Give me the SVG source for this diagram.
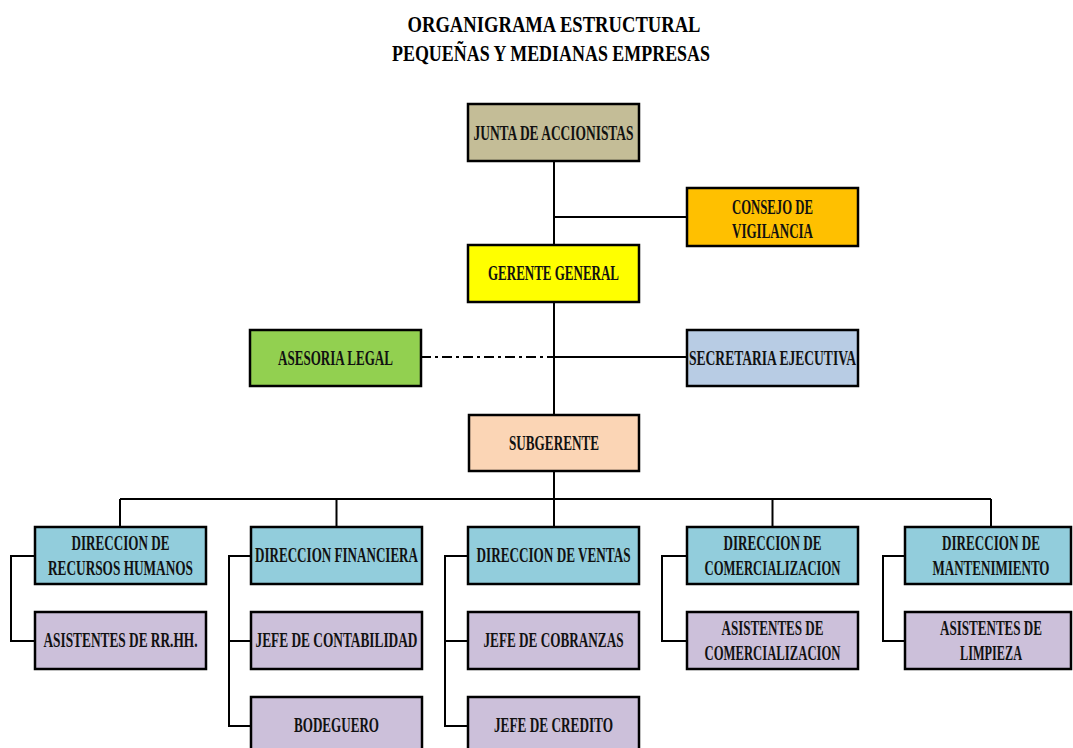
<svg xmlns="http://www.w3.org/2000/svg" width="1073" height="748" viewBox="0 0 1073 748">
<style>
.box{stroke:#000;stroke-width:2.5}
.t{font-family:"Liberation Serif","Times New Roman",serif;font-weight:bold;font-size:20px;fill:#111;text-anchor:middle}
.title{font-family:"Liberation Serif","Times New Roman",serif;font-weight:bold;font-size:23px;fill:#000;text-anchor:middle}
.c{stroke:#000;stroke-width:2;fill:none}
.tan{fill:#c4bd97}.org{fill:#ffc000}.yel{fill:#ffff00}.grn{fill:#92d050}.sky{fill:#b8cce4}.pch{fill:#fbd5b5}.blu{fill:#92cddc}.lav{fill:#ccc0da}
</style>
<rect width="1073" height="748" fill="#fff"/>
<g id="title">
<text class="title" x="554" y="32" textLength="293" lengthAdjust="spacingAndGlyphs">ORGANIGRAMA ESTRUCTURAL</text>
<text class="title" x="551" y="61" textLength="318" lengthAdjust="spacingAndGlyphs">PEQUEÑAS Y MEDIANAS EMPRESAS</text>
</g>
<g id="connectors">
<path class="c" d="M554 161V245M554 217H687M554 302V415M554 357H687M554 471V499M120 499H991M120 499V527M336.5 499V527M554 499V527M772.5 499V527M991 499V527"/>
<path class="c" d="M421 357H554" stroke-dasharray="10 4 3 4"/>
<path class="c" d="M35 556H11V641H35M251 556H229V726H251M229 641H251M468 556H445V726H468M445 641H468M687 556H662V641H687M905 556H883V641H905"/>
</g>
<g id="junta"><rect class="box tan" x="468" y="104" width="171" height="57"/><text class="t" x="553.5" y="139.5" textLength="160" lengthAdjust="spacingAndGlyphs">JUNTA DE ACCIONISTAS</text></g>
<g id="consejo"><rect class="box org" x="687" y="188" width="171" height="58"/><text class="t" x="772.5" y="214" textLength="81" lengthAdjust="spacingAndGlyphs">CONSEJO DE</text><text class="t" x="772.5" y="238" textLength="81" lengthAdjust="spacingAndGlyphs">VIGILANCIA</text></g>
<g id="gerente"><rect class="box yel" x="468" y="245" width="171" height="57"/><text class="t" x="553.5" y="280" textLength="131" lengthAdjust="spacingAndGlyphs">GERENTE GENERAL</text></g>
<g id="asesoria"><rect class="box grn" x="250" y="330" width="171" height="56"/><text class="t" x="335.5" y="365" textLength="115" lengthAdjust="spacingAndGlyphs">ASESORIA LEGAL</text></g>
<g id="secretaria"><rect class="box sky" x="687" y="330" width="171" height="56"/><text class="t" x="772.5" y="365" textLength="167" lengthAdjust="spacingAndGlyphs">SECRETARIA EJECUTIVA</text></g>
<g id="subgerente"><rect class="box pch" x="469" y="415" width="170" height="56"/><text class="t" x="554" y="450" textLength="90" lengthAdjust="spacingAndGlyphs">SUBGERENTE</text></g>
<g id="dir-rrhh"><rect class="box blu" x="35" y="527" width="171" height="57"/><text class="t" x="120.5" y="550" textLength="98" lengthAdjust="spacingAndGlyphs">DIRECCION DE</text><text class="t" x="120.5" y="575" textLength="145" lengthAdjust="spacingAndGlyphs">RECURSOS HUMANOS</text></g>
<g id="dir-fin"><rect class="box blu" x="251" y="527" width="171" height="57"/><text class="t" x="336.5" y="562" textLength="163" lengthAdjust="spacingAndGlyphs">DIRECCION FINANCIERA</text></g>
<g id="dir-ventas"><rect class="box blu" x="468" y="527" width="171" height="57"/><text class="t" x="553.5" y="562" textLength="154" lengthAdjust="spacingAndGlyphs">DIRECCION DE VENTAS</text></g>
<g id="dir-comerc"><rect class="box blu" x="687" y="527" width="171" height="57"/><text class="t" x="772.5" y="550" textLength="98" lengthAdjust="spacingAndGlyphs">DIRECCION DE</text><text class="t" x="772.5" y="575" textLength="136" lengthAdjust="spacingAndGlyphs">COMERCIALIZACION</text></g>
<g id="dir-mant"><rect class="box blu" x="905" y="527" width="166" height="57"/><text class="t" x="991" y="550" textLength="98" lengthAdjust="spacingAndGlyphs">DIRECCION DE</text><text class="t" x="991" y="575" textLength="117" lengthAdjust="spacingAndGlyphs">MANTENIMIENTO</text></g>
<g id="asis-rrhh"><rect class="box lav" x="35" y="612" width="171" height="57"/><text class="t" x="120.5" y="647" textLength="154" lengthAdjust="spacingAndGlyphs">ASISTENTES DE RR.HH.</text></g>
<g id="jefe-cont"><rect class="box lav" x="251" y="612" width="171" height="57"/><text class="t" x="336.5" y="647" textLength="162" lengthAdjust="spacingAndGlyphs">JEFE DE CONTABILIDAD</text></g>
<g id="jefe-cobr"><rect class="box lav" x="468" y="612" width="171" height="57"/><text class="t" x="553.5" y="647" textLength="140" lengthAdjust="spacingAndGlyphs">JEFE DE COBRANZAS</text></g>
<g id="asis-comerc"><rect class="box lav" x="687" y="612" width="171" height="57"/><text class="t" x="772.5" y="635" textLength="102" lengthAdjust="spacingAndGlyphs">ASISTENTES DE</text><text class="t" x="772.5" y="660" textLength="136" lengthAdjust="spacingAndGlyphs">COMERCIALIZACION</text></g>
<g id="asis-limp"><rect class="box lav" x="905" y="612" width="166" height="57"/><text class="t" x="991" y="635" textLength="102" lengthAdjust="spacingAndGlyphs">ASISTENTES DE</text><text class="t" x="991" y="660" textLength="62" lengthAdjust="spacingAndGlyphs">LIMPIEZA</text></g>
<g id="bodeguero"><rect class="box lav" x="251" y="697" width="171" height="57"/><text class="t" x="336.5" y="732" textLength="85" lengthAdjust="spacingAndGlyphs">BODEGUERO</text></g>
<g id="jefe-cred"><rect class="box lav" x="468" y="697" width="171" height="57"/><text class="t" x="553.5" y="732" textLength="119" lengthAdjust="spacingAndGlyphs">JEFE DE CREDITO</text></g>
</svg>
